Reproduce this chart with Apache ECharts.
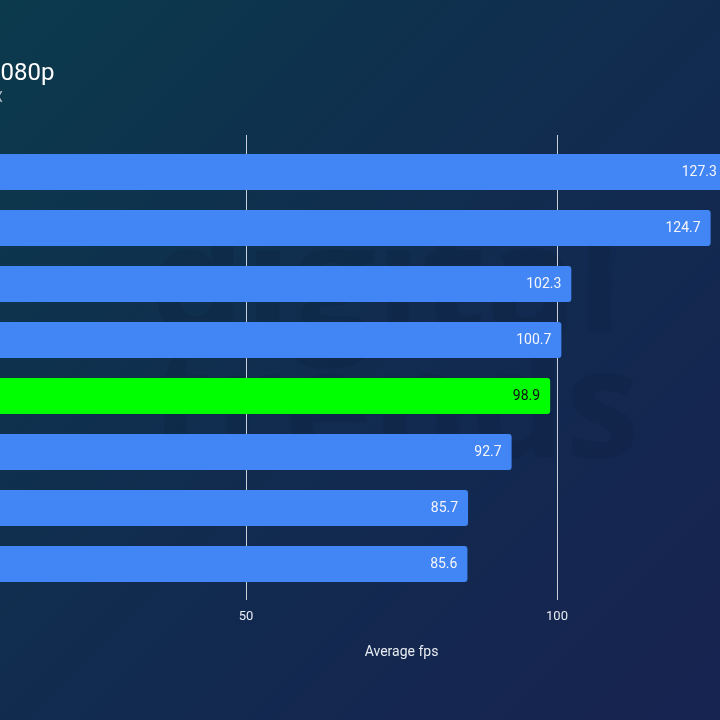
<!DOCTYPE html>
<html>
<head>
<meta charset="utf-8">
<script src="https://cdn.jsdelivr.net/npm/echarts@6/dist/echarts.min.js"></script>
<style>
  html, body { margin: 0; padding: 0; overflow: hidden; width: 720px; height: 720px; position: relative; background: #112a4f; }
  /* the reference is a crop: the zero line sits 65px left of the window */
  #chart { position: absolute; left: -65px; top: 0; width: 933px; height: 720px; }
</style>
</head>
<body>
<div id="chart"></div>
<script>
// rows, top to bottom (names sit off the left edge in the reference)
var cards = ["Card 1", "Card 2", "Card 3", "Card 4", "Card 5", "Card 6", "Card 7", "Card 8"];
var fps = [127.3, 124.7, 102.3, 100.7, 98.9, 92.7, 85.7, 85.6];
var highlight = 4; // the green bar
var xMin = 0, xMax = 150, xStep = 50;

var chart = echarts.init(document.getElementById("chart"));

var barData = fps.map(function (v, i) {
  if (i === highlight) {
    return {
      value: v,
      itemStyle: { color: "#00ff00" },
      label: { color: "#111111" }
    };
  }
  return v;
});

var option = {
  // global coords so the gradient follows the visible 720px window
  backgroundColor: new echarts.graphic.LinearGradient(65, 0, 785, 720, [
    { offset: 0, color: "#0b3a4c" },
    { offset: 0.5, color: "#112b4f" },
    { offset: 1, color: "#172350" }
  ], true),
  textStyle: { fontFamily: "Roboto" },
  graphic: [
    {
      type: "text",
      left: 52,
      top: 62,
      style: { text: "1080p", fill: "#ffffff", font: "24px Roboto" }
    },
    {
      type: "text",
      left: 59,
      top: 91,
      style: { text: "X", fill: "#b8c2d0", font: "14px Roboto" }
    },
    {
      type: "text",
      left: 215,
      top: 215,
      z: -1,
      style: { text: "digital", fill: "rgba(8,20,45,0.13)", font: "bold 150px 'Open Sans'" }
    },
    {
      type: "text",
      left: 215,
      top: 340,
      z: -1,
      style: { text: "trends", fill: "rgba(8,20,45,0.13)", font: "bold 150px 'Open Sans'" }
    }
  ],
  grid: { left: 0, right: 0, top: 144, bottom: 128, containLabel: false, outerBoundsMode: "none" },
  xAxis: [
    {
      type: "value",
      position: "bottom",
      min: xMin,
      max: xMax,
      interval: xStep,
      name: "Average fps",
      nameLocation: "middle",
      nameGap: 53,
      nameTextStyle: { color: "#e8ecf2", fontSize: 14 },
      axisLine: { show: false },
      axisTick: { show: true, length: 8, lineStyle: { color: "#c9cfd8" } },
      axisLabel: { color: "#e8ecf2", fontSize: 13, margin: 18 },
      splitLine: { show: true, lineStyle: { color: "#c9cfd8", width: 1 } }
    },
    {
      type: "value",
      position: "top",
      min: xMin,
      max: xMax,
      interval: xStep,
      axisLine: { show: false },
      axisTick: { show: true, length: 9, lineStyle: { color: "#c9cfd8" } },
      axisLabel: { show: false },
      splitLine: { show: false }
    }
  ],
  yAxis: {
    type: "category",
    data: cards,
    inverse: true,
    axisLine: { show: false },
    axisTick: { show: false },
    axisLabel: { show: false }
  },
  series: [
    {
      type: "bar",
      data: barData,
      barWidth: 36,
      itemStyle: { color: "#4285f4", borderRadius: [0, 3, 3, 0] },
      label: {
        show: true,
        position: "insideRight",
        distance: 10,
        color: "#f4f6fa",
        fontSize: 14,
        formatter: function (p) { return p.value.toFixed(1); }
      }
    }
  ]
};

chart.setOption(option);
</script>
</body>
</html>
